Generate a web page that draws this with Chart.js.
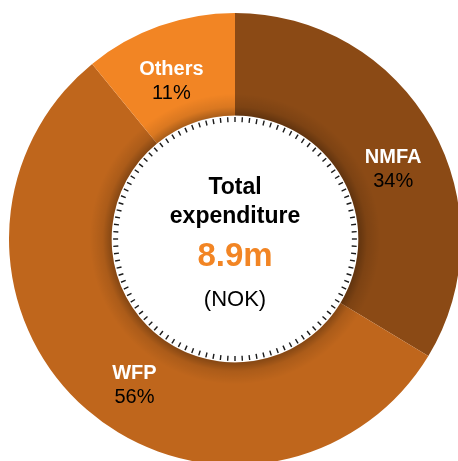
<!DOCTYPE html>
<html>
<head>
<meta charset="utf-8">
<script src="https://cdn.jsdelivr.net/npm/chart.js@4.4.1/dist/chart.umd.min.js"></script>
<style>
  html, body { margin: 0; padding: 0; background: #fff; overflow: hidden; width: 458px; height: 461px; }
  #wrap { position: absolute; left: 9px; top: 12.5px; width: 452px; height: 452px; }
</style>
</head>
<body>
<div id="wrap"><canvas id="donut"></canvas></div>
<script>
// data
const categories = ['NMFA', 'WFP', 'Others'];
const shares = [34, 56, 11];
const sliceColors = ['#8B4A15', '#BF661C', '#F28524'];
const centerLines = ['Total', 'expenditure', '8.9m', '(NOK)'];

const FONT = '"Liberation Sans", Arial, sans-serif';

// inner shadow, ticks round the hole, centre text and slice labels
const decorations = {
  id: 'decorations',
  afterDatasetsDraw(chart, args, opts) {
    const ctx = chart.ctx;
    const arc0 = chart.getDatasetMeta(0).data[0];
    const cx = arc0.x, cy = arc0.y;
    const rin = arc0.innerRadius;

    ctx.save();
    // soft shadow along inner edge of the ring
    const g = ctx.createRadialGradient(cx, cy, rin, cx, cy, rin + 22);
    g.addColorStop(0, 'rgba(0,0,0,0.3)');
    g.addColorStop(0.4, 'rgba(0,0,0,0.1)');
    g.addColorStop(1, 'rgba(0,0,0,0)');
    ctx.beginPath();
    ctx.arc(cx, cy, rin + 22, 0, Math.PI * 2);
    ctx.arc(cx, cy, rin, 0, Math.PI * 2, true);
    ctx.fillStyle = g;
    ctx.fill();

    // tick marks
    ctx.strokeStyle = '#1a1a1a';
    ctx.lineWidth = 1.4;
    const n = opts.ticks;
    for (let i = 0; i < n; i++) {
      const a = i / n * Math.PI * 2;
      ctx.beginPath();
      ctx.moveTo(cx + Math.cos(a) * (rin - 1.5), cy + Math.sin(a) * (rin - 1.5));
      ctx.lineTo(cx + Math.cos(a) * (rin - 6.5), cy + Math.sin(a) * (rin - 6.5));
      ctx.stroke();
    }

    // centre text
    ctx.textAlign = 'center';
    ctx.textBaseline = 'middle';
    ctx.fillStyle = '#000';
    ctx.font = 'bold 23px ' + FONT;
    ctx.fillText(centerLines[0], cx, cy - 51);
    ctx.fillText(centerLines[1], cx, cy - 22);
    ctx.fillStyle = '#F28524';
    ctx.font = 'bold 33px ' + FONT;
    ctx.fillText(centerLines[2], cx, cy + 18);
    ctx.fillStyle = '#000';
    ctx.font = '22px ' + FONT;
    ctx.fillText(centerLines[3], cx, cy + 61);

    // slice labels
    const ds = chart.data.datasets[0];
    chart.getDatasetMeta(0).data.forEach((arc, i) => {
      const p = arc.tooltipPosition();
      const off = opts.offsets[i];
      const x = p.x + off[0], y = p.y + off[1];
      ctx.fillStyle = '#fff';
      ctx.font = 'bold 20px ' + FONT;
      ctx.fillText(chart.data.labels[i], x, y - 12);
      ctx.fillStyle = '#000';
      ctx.font = '20px ' + FONT;
      ctx.fillText(ds.data[i] + '%', x, y + 12);
    });
    ctx.restore();
  }
};

new Chart(document.getElementById('donut').getContext('2d'), {
  type: 'doughnut',
  data: {
    labels: categories,
    datasets: [{
      data: shares,
      backgroundColor: sliceColors,
      borderWidth: 0
    }]
  },
  options: {
    responsive: true,
    maintainAspectRatio: true,
    aspectRatio: 1,
    animation: false,
    cutout: '54.6%',
    layout: { padding: 0 },
    plugins: {
      legend: { display: false },
      tooltip: { enabled: false },
      decorations: {
        ticks: 104,
        offsets: [[6, 16], [14, 15], [-5, 7]]
      }
    }
  },
  plugins: [decorations]
});
</script>
</body>
</html>
